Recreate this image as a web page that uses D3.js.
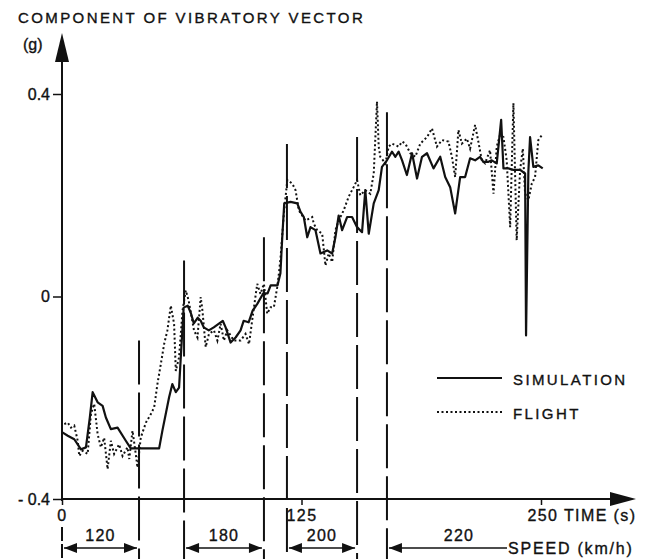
<!DOCTYPE html>
<html>
<head>
<meta charset="utf-8">
<script src="https://cdn.jsdelivr.net/npm/d3@7"></script>
<style>
    body { margin: 0; background: #fff; }
    text { font-family: "Liberation Sans", Arial, sans-serif; fill: #111; stroke: #111; stroke-width: 0.35px; }
</style>
</head>
<body>
<div id="chart"></div>
<script>
// simulation trace (time in s, component in g)
var simTime = [0, 3, 6.4, 9.9, 12.5, 14.5, 16, 18.6, 21.2, 22.9, 25.5, 29, 33.3, 35.9, 50.7, 52.4, 55.9, 57.6, 59.4, 61.1,
    62, 63.5, 65.6, 67.2, 68.8, 70.8, 72.4, 74, 76.6, 79.2, 83.9, 85.4, 88, 90.6, 93.2, 94.8, 97.4, 99.5, 102, 105,
    107.3, 108.9, 112.5, 114, 115, 116, 119.3, 122.8, 124.5, 126.2, 128, 129.7, 132.3, 134.9, 138.4, 141, 142.7, 144.4, 146.2, 148.8,
    151.4, 154, 156.6, 158.3, 160.1, 162.7, 165.3, 167, 169.6, 172.2, 174, 175.7, 177.5, 180, 182.7, 185.3, 187.9, 190.5, 193.9, 197.4,
    200, 202.6, 205.2, 207.8, 210.4, 213, 215.6, 218.2, 219.9, 222.6, 224.3, 226.9, 229.2, 230.4, 233, 235.6, 239.1, 241.7, 242.2, 243.4,
    244.3, 246, 248.6, 250.9];
var simValue = [-0.268, -0.275, -0.282, -0.302, -0.298, -0.24, -0.189, -0.209, -0.216, -0.239, -0.262, -0.259, -0.285, -0.3, -0.3, -0.265, -0.199, -0.173, -0.189, -0.18,
    -0.12, -0.022, -0.018, -0.032, -0.053, -0.042, -0.048, -0.061, -0.067, -0.061, -0.048, -0.061, -0.091, -0.081, -0.067, -0.048, -0.051, -0.028, -0.014, 0.006,
    0.006, 0.022, 0.022, 0.046, 0.12, 0.184, 0.187, 0.184, 0.167, 0.157, 0.117, 0.137, 0.131, 0.085, 0.091, 0.085, 0.117, 0.16, 0.131, 0.157,
    0.157, 0.137, 0.127, 0.21, 0.124, 0.184, 0.21, 0.256, 0.269, 0.286, 0.276, 0.286, 0.269, 0.24, 0.283, 0.233, 0.276, 0.283, 0.253, 0.276,
    0.236, 0.216, 0.164, 0.236, 0.236, 0.273, 0.269, 0.276, 0.266, 0.266, 0.269, 0.263, 0.349, 0.253, 0.253, 0.25, 0.25, 0.243, -0.077, 0.246,
    0.315, 0.256, 0.259, 0.253];

// flight trace
var flightTime = [1.2, 3, 4.7, 6.4, 8.2, 9, 10.8, 13.4, 15.1, 16.8, 18.6, 20.3, 22, 23.8, 25.5, 27.2, 29.8, 31.6, 34.2, 35.1,
    36.8, 38.5, 39.4, 41.1, 43.8, 46.4, 48.1, 49.8, 51.6, 53.3, 55, 56.8, 58.5, 59.4, 61.1, 62.9, 64.6, 66.1, 68.9, 70.7,
    72.4, 73.3, 75, 76.7, 79.3, 81.1, 82.8, 84.5, 86.3, 89.7, 93.2, 95.8, 97.6, 100.2, 101.9, 103.6, 105.4, 107.1, 108.9, 110.6,
    112.3, 113.2, 114.1, 115.8, 117.6, 120.2, 121.9, 123.6, 127.1, 130.6, 131.4, 133.2, 135.8, 137.5, 139.2, 141, 142.7, 144.4, 147, 149.6,
    152.2, 154, 155.7, 158.3, 160.9, 162.7, 164.4, 165.3, 166.1, 168.8, 170.5, 172.2, 175.7, 177.5, 179.2, 181.8, 184.4, 187, 190.5, 193.1,
    195.7, 198.3, 201.7, 203.5, 205.2, 206.9, 208.7, 211.3, 213, 215.6, 217.3, 219.1, 220.8, 223.4, 225.2, 226.9, 228.6, 230.4, 232.1, 233.9,
    235.6, 237.3, 239.1, 240.5, 241.7, 243.4, 245.2, 246.9, 248.6, 250.9];
var flightValue = [-0.252, -0.249, -0.259, -0.255, -0.285, -0.315, -0.305, -0.311, -0.232, -0.212, -0.272, -0.298, -0.279, -0.341, -0.285, -0.311, -0.292, -0.315, -0.298, -0.321,
    -0.265, -0.311, -0.338, -0.279, -0.249, -0.232, -0.219, -0.173, -0.133, -0.094, -0.067, -0.018, -0.054, -0.147, -0.12, -0.028, 0.012, -0.008, -0.067, -0.081,
    -0.001, -0.028, -0.1, -0.074, -0.067, -0.087, -0.054, -0.087, -0.067, -0.087, -0.087, -0.074, -0.094, -0.021, 0.025, 0.005, 0.025, -0.034, -0.021, -0.021,
    0.018, 0.045, 0.078, 0.164, 0.23, 0.223, 0.21, 0.17, 0.15, 0.157, 0.144, 0.131, 0.124, 0.061, 0.085, 0.068, 0.131, 0.15, 0.17, 0.197,
    0.216, 0.23, 0.2, 0.21, 0.203, 0.243, 0.385, 0.296, 0.276, 0.263, 0.296, 0.302, 0.296, 0.306, 0.302, 0.283, 0.276, 0.302, 0.315, 0.332,
    0.296, 0.309, 0.306, 0.276, 0.236, 0.329, 0.302, 0.312, 0.292, 0.339, 0.306, 0.269, 0.263, 0.289, 0.203, 0.296, 0.319, 0.315, 0.269, 0.137,
    0.382, 0.111, 0.25, 0.292, 0.203, 0.19, 0.223, 0.236, 0.309, 0.321];

// speed change markers and bands
var markerTime = [40.2, 63.7, 105.4, 117.4, 154, 169.6];
var markerTop = [-0.087, 0.071, 0.117, 0.301, 0.315, 0.364];
var speedLabels = ["120", "180", "200", "220"];
var speedStart = [0, 63.7, 117.4, 169.6];
var speedEnd = [40.2, 105.4, 154, null];

var yTicks = [-0.4, 0, 0.4];
var xTicks = [0, 125, 250];

var width = 648;
var height = 559;

var svg = d3.select("#chart")
            .append("svg")
            .attr("width", width)
            .attr("height", height);

var x = d3.scaleLinear().domain([0, 250]).range([62, 541]);
var y = d3.scaleLinear().domain([-0.4, 0.4]).range([499, 94]);

// title and unit
svg.append("text")
    .attr("x", 18).attr("y", 23)
    .style("font-size", "15px").style("letter-spacing", "2.4px")
    .text("COMPONENT OF VIBRATORY VECTOR");
svg.append("text")
    .attr("x", 23).attr("y", 50)
    .style("font-size", "16px")
    .text("(g)");

// y axis
var yaxis = d3.axisLeft(y)
                .tickValues(yTicks)
                .tickSize(9)
                .tickPadding(3)
                .tickFormat((d) => d === 0 ? "0" : (d < 0 ? "- " : "") + Math.abs(d).toFixed(1));
var gy = svg.append("g").attr("transform", "translate(" + x(0) + ",0)").call(yaxis);
gy.select(".domain").remove();
gy.selectAll("line").attr("stroke", "#111").attr("stroke-width", 1.5);
gy.selectAll("text").style("font-size", "16px").style("font-family", "Liberation Sans, Arial, sans-serif").attr("fill", "#111");

svg.append("line")
    .attr("x1", x(0)).attr("x2", x(0))
    .attr("y1", 40).attr("y2", y(-0.4) + 2)
    .attr("stroke", "#111").attr("stroke-width", 2);
svg.append("path")
    .attr("d", "M" + x(0) + ",33 L" + (x(0) + 7) + ",62 L" + (x(0) - 7) + ",62 Z")
    .attr("fill", "#111");

// x axis
var xaxis = d3.axisBottom(x)
                .tickValues(xTicks)
                .tickSize(6)
                .tickPadding(5)
                .tickFormat((d) => d === 250 ? "250 TIME (s)" : d);
var gx = svg.append("g").attr("transform", "translate(0," + y(-0.4) + ")").call(xaxis);
gx.select(".domain").remove();
gx.selectAll("line").attr("stroke", "#111").attr("stroke-width", 1.5);
gx.selectAll("text")
    .style("font-size", "16px").style("letter-spacing", "1.4px")
    .style("font-family", "Liberation Sans, Arial, sans-serif").attr("fill", "#111")
    .attr("text-anchor", (d) => d === 250 ? "start" : "middle")
    .attr("dx", (d) => d === 250 ? -14 : 0);

svg.append("line")
    .attr("x1", x(0)).attr("x2", 614)
    .attr("y1", y(-0.4)).attr("y2", y(-0.4))
    .attr("stroke", "#111").attr("stroke-width", 2);
svg.append("path")
    .attr("d", "M636," + y(-0.4) + " L610," + (y(-0.4) - 7) + " L610," + (y(-0.4) + 7) + " Z")
    .attr("fill", "#111");

// speed change markers
svg.append("g")
    .selectAll("line")
    .data(markerTime)
    .enter()
    .append("line")
    .attr("x1", (d) => x(d)).attr("x2", (d) => x(d))
    .attr("y1", (d, i) => y(markerTop[i]))
    .attr("y2", 559)
    .attr("stroke", "#111")
    .attr("stroke-width", 2)
    .attr("stroke-dasharray", "44,8");

svg.append("line")
    .attr("x1", x(0)).attr("x2", x(0))
    .attr("y1", 527).attr("y2", 559)
    .attr("stroke", "#111").attr("stroke-width", 2)
    .attr("stroke-dasharray", "14,3");

// traces
var lineGen = d3.line().x((d) => x(d[0])).y((d) => y(d[1]));
var simData = d3.zip(simTime, simValue);
var flightData = d3.zip(flightTime, flightValue);

svg.append("path")
    .attr("d", lineGen(flightData))
    .attr("fill", "none")
    .attr("stroke", "#111")
    .attr("stroke-width", 2)
    .attr("stroke-dasharray", "2,2.5");

svg.append("path")
    .attr("d", lineGen(simData))
    .attr("fill", "none")
    .attr("stroke", "#111")
    .attr("stroke-width", 2.2)
    .attr("stroke-linejoin", "round");

// speed bands
var arrowY = 548;
function arrowHead(xTip, dir) {
    return "M" + xTip + "," + arrowY + " L" + (xTip + dir * 13) + "," + (arrowY - 5) +
        " L" + (xTip + dir * 13) + "," + (arrowY + 5) + " Z";
}

var bands = svg.append("g");
speedLabels.forEach(function(lab, i) {
    var x1 = x(speedStart[i]) + 2;
    var x2 = speedEnd[i] === null ? 507 : x(speedEnd[i]) - 2;
    bands.append("line")
        .attr("x1", x1).attr("x2", x2)
        .attr("y1", arrowY).attr("y2", arrowY)
        .attr("stroke", "#111").attr("stroke-width", 1.5);
    bands.append("path").attr("d", arrowHead(x1, 1)).attr("fill", "#111");
    if (speedEnd[i] !== null) {
        bands.append("path").attr("d", arrowHead(x2, -1)).attr("fill", "#111");
    }
    var cx = speedEnd[i] === null ? 459 : (x1 + x2) / 2;
    bands.append("text")
        .attr("x", cx).attr("y", 541)
        .attr("text-anchor", "middle")
        .style("font-size", "16px").style("letter-spacing", "1.2px")
        .text(lab);
});

svg.append("text")
    .attr("x", 508).attr("y", 554)
    .style("font-size", "16px").style("letter-spacing", "1.8px")
    .text("SPEED (km/h)");

// legend
svg.append("line")
    .attr("x1", 437).attr("x2", 502)
    .attr("y1", 378).attr("y2", 378)
    .attr("stroke", "#111").attr("stroke-width", 2);
svg.append("text")
    .attr("x", 513).attr("y", 385)
    .style("font-size", "15px").style("letter-spacing", "2.4px")
    .text("SIMULATION");
svg.append("line")
    .attr("x1", 437).attr("x2", 502)
    .attr("y1", 412).attr("y2", 412)
    .attr("stroke", "#111").attr("stroke-width", 2)
    .attr("stroke-dasharray", "2,2.5");
svg.append("text")
    .attr("x", 513).attr("y", 419)
    .style("font-size", "15px").style("letter-spacing", "2.4px")
    .text("FLIGHT");
</script>
</body>
</html>
